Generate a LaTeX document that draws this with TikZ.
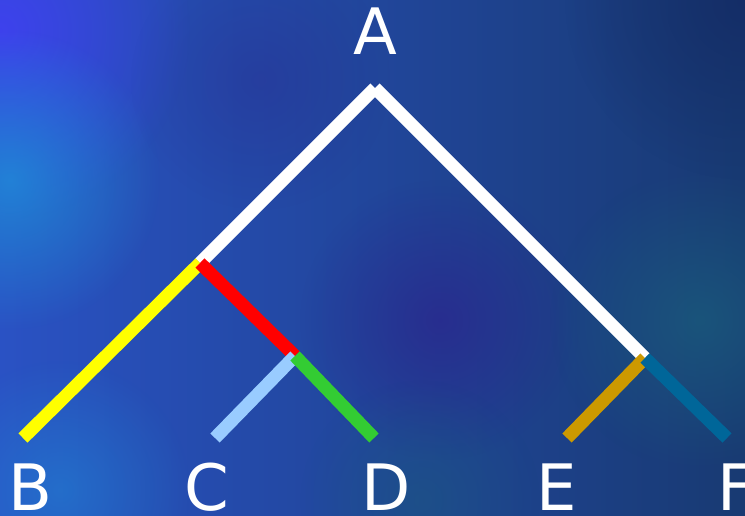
\documentclass[tikz,border=0pt]{standalone}
\usepackage{fontspec}
\setmainfont{DejaVu Sans}
\usetikzlibrary{positioning,fadings}

% background tones
\definecolor{bgleft}{HTML}{2A52C4}
\definecolor{bgright}{HTML}{183A72}
\definecolor{bgviolet}{HTML}{4040F2}
\definecolor{bgcyan}{HTML}{1E92DA}
\definecolor{bgteal}{HTML}{1A5A7C}
\definecolor{bgpurple}{HTML}{2A288E}
\definecolor{bgnavy}{HTML}{142C66}
% branch colours
\definecolor{brYellow}{HTML}{FFFF00}
\definecolor{brRed}{HTML}{FF0000}
\definecolor{brSky}{HTML}{99CCFF}
\definecolor{brGreen}{HTML}{33CC33}
\definecolor{brGold}{HTML}{CC9900}
\definecolor{brTeal}{HTML}{006699}

\tikzfading[name=glow, inner color=transparent!0, outer color=transparent!100]

\begin{document}
\begin{tikzpicture}[
    x=1pt, y=-1pt,
    branch/.style={line width=13pt},
    taxon/.style={text=white, font=\fontsize{64}{64}\selectfont, inner sep=0pt},
    blob/.style={fill=#1, path fading=glow}
]

% Background
\useasboundingbox (0,0) rectangle (745,515);
\begin{scope}
\clip (0,0) rectangle (745,515);
\shade[left color=bgleft, right color=bgright] (0,0) rectangle (745,515);
\fill[blob=bgviolet, opacity=0.9] (0,30) circle (190);
\fill[blob=bgcyan, opacity=0.75] (10,180) circle (150);
\fill[blob=bgcyan, opacity=0.45] (60,490) circle (130);
\fill[blob=bgpurple, opacity=0.8] (440,320) circle (140);
\fill[blob=bgpurple, opacity=0.35] (260,80) circle (130);
\fill[blob=bgteal, opacity=0.8] (700,320) circle (150);
\fill[blob=bgnavy, opacity=0.9] (745,0) circle (180);
\fill[blob=bgteal, opacity=0.5] (420,500) circle (120);
\end{scope}

% Tree points
\coordinate (root) at (375,88);
\coordinate (ab) at (200,263);
\coordinate (cd) at (295,356);
\coordinate (ef) at (645,358);
\coordinate (b) at (23,438);
\coordinate (c) at (215,438);
\coordinate (d) at (374,438);
\coordinate (e) at (567,438);
\coordinate (f) at (727,438);

% Labels
\node[taxon, anchor=south, above=33pt of root] (lblA) {A};
\node[taxon, anchor=base] (lblB) at (30,510) {B};
\node[taxon, anchor=base] (lblC) at (207,510) {C};
\node[taxon, anchor=base] (lblD) at (386,510) {D};
\node[taxon, anchor=base] (lblE) at (557,510) {E};
\node[taxon, anchor=base] (lblF) at (736,510) {F};

% Branches
\draw[branch, white] (root) -- (ab);
\draw[branch, white] (root) -- (ef);
\draw[branch, brYellow] (ab) -- (b);
\draw[branch, brRed] (ab) -- (cd);
\draw[branch, brSky] (cd) -- (c);
\draw[branch, brGreen] (cd) -- (d);
\draw[branch, brGold] (ef) -- (e);
\draw[branch, brTeal] (ef) -- (f);

\end{tikzpicture}
\end{document}
